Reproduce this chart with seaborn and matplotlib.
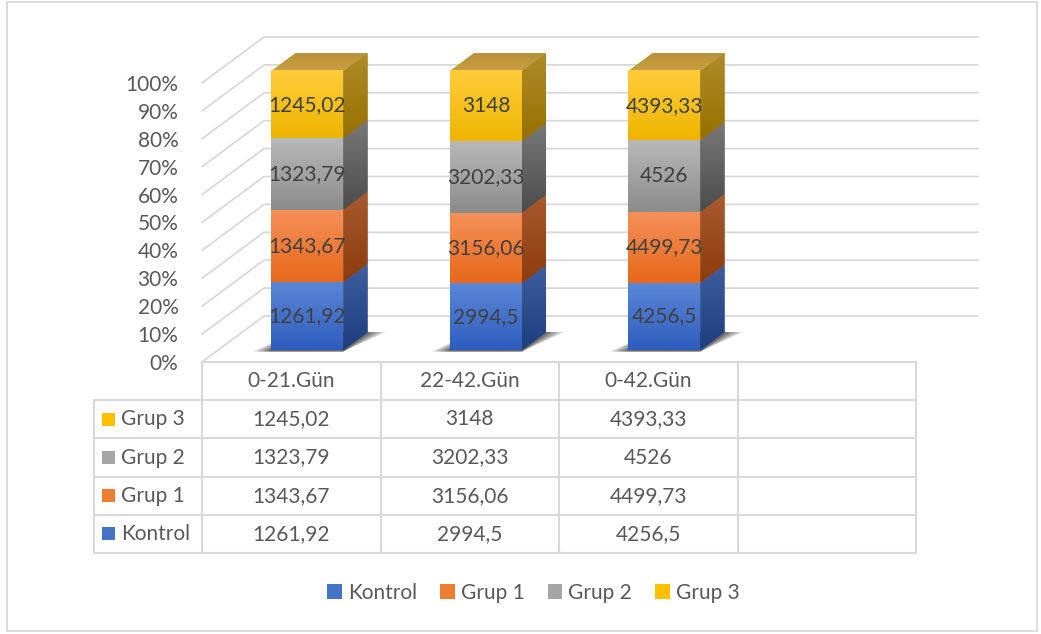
import matplotlib
matplotlib.use("Agg")
import matplotlib.colors as mcolors
import matplotlib.pyplot as plt
import matplotlib.transforms as mtransforms
import numpy as np
import pandas as pd
import seaborn as sns
from matplotlib.patches import Patch, Polygon, Rectangle

# data
categories = ["0-21.Gün", "22-42.Gün", "0-42.Gün"]
series_names = ["Kontrol", "Grup 1", "Grup 2", "Grup 3"]
kontrol = [1261.92, 2994.5, 4256.5]
grup1 = [1343.67, 3156.06, 4499.73]
grup2 = [1323.79, 3202.33, 4526]
grup3 = [1245.02, 3148, 4393.33]
y_ticks = list(range(0, 101, 10))

# colours: front face top/bottom, side face top/bottom
front_top = ["#5B87D6", "#F5915A", "#B8B8B8", "#FFCD3C"]
front_bot = ["#2E5DBD", "#E8681A", "#8C8C8C", "#EDB500"]
side_top = ["#3E5E9E", "#A85A30", "#787878", "#B08C28"]
side_bot = ["#1E3D7D", "#8C3C0C", "#4C4C4C", "#957000"]
mid_col = ["#4472C4", "#ED7D31", "#A5A5A5", "#FFC000"]
top_face = ("#C8A042", "#B8923A")
GRID = "#D9D9D9"
TXT = "#595959"

W, H = 1041, 634
DX, DY = 62, -46          # depth vector of the floor, pixels (y down)
D_FRONT, D_BAR = 0.26, 0.39
BAR_W = 0.403


def fmt(v):
    return f"{v:g}".replace(".", ",")


def vgrad(c_top, c_bot, n=64):
    a = np.array(mcolors.to_rgb(c_top))
    b = np.array(mcolors.to_rgb(c_bot))
    t = np.linspace(0, 1, n)[:, None]
    return (a + (b - a) * t)[:, None, :]


sns.set_style("white")
plt.rcParams["font.family"] = ["Lato", "DejaVu Sans"]

df = pd.DataFrame({"Kontrol": kontrol, "Grup 1": grup1,
                   "Grup 2": grup2, "Grup 3": grup3}, index=categories)
pct = df.div(df.sum(axis=1), axis=0) * 100

fig = plt.figure(figsize=(W / 100, H / 100), dpi=100)
bg = fig.add_axes([0, 0, 1, 1], zorder=0)
bg.set_xlim(0, W)
bg.set_ylim(H, 0)
bg.axis("off")

# front plane of the wall: y=0 at 362px, y=100 at 83px
px_per = (362 - 83) / 100
y_max = 112
ax = fig.add_axes([202 / W, 1 - 362 / H, (916 - 202) / W, y_max * px_per / H], zorder=1)
ax.set_facecolor("none")

bars = {}
bottom = np.zeros(len(categories))
for i, name in enumerate(series_names):
    n0 = len(ax.patches)
    sns.barplot(x=categories, y=pct[name].values, bottom=bottom, color=mid_col[i],
                saturation=1, width=BAR_W, errorbar=None, linewidth=0, ax=ax)
    bars[name] = ax.patches[n0:]
    bottom = bottom + pct[name].values

ax.set_xlim(-0.5, 3.5)
ax.set_ylim(0, y_max)
ax.set_xticks([])
ax.set_xlabel("")
ax.set_ylabel("")
for s in ax.spines.values():
    s.set_visible(False)
ax.set_yticks(y_ticks)
ax.set_yticklabels([f"{v}%" for v in y_ticks])
ax.tick_params(axis="y", length=0, pad=17, labelsize=15, labelcolor=TXT)

off_front = mtransforms.ScaledTranslation(DX * D_FRONT / 100, -DY * D_FRONT / 100,
                                          fig.dpi_scale_trans)
dv = np.array([DX, DY]) * D_BAR


def to_img(x, y, d=0.0):
    disp = ax.transData.transform((x, y))
    p = bg.transData.inverted().transform(disp)
    return p + d * np.array([DX, DY])


# back wall gridlines
for v in y_ticks:
    fl = to_img(-0.5, v)
    bl = fl + np.array([DX, DY])
    br = to_img(3.5, v) + np.array([DX, DY])
    bg.plot([fl[0], bl[0], br[0]], [fl[1], bl[1], br[1]], color=GRID, lw=1.3, zorder=1,
            solid_joinstyle="miter")

for i, name in enumerate(series_names):
    for p in bars[name]:
        x0, y0 = p.get_x(), p.get_y()
        x1, y1 = x0 + p.get_width(), y0 + p.get_height()
        p.set_transform(ax.transData + off_front)
        ax.imshow(vgrad(front_top[i], front_bot[i]), extent=(x0, x1, y0, y1),
                  origin="upper", aspect="auto", interpolation="bilinear",
                  transform=ax.transData + off_front, clip_path=p, zorder=3)

        # floor shadow under the first segment
        if i == 0:
            fl, fr = to_img(x0, 0, D_FRONT), to_img(x1, 0, D_FRONT)
            for e in (18, 14, 10, 6, 3):
                poly = [fl + [-e, 1.5], fr + [0, 1.5], fr + dv + [e, 0], fl + dv + [0, 0]]
                bg.add_patch(Polygon(poly, closed=True, facecolor="black", alpha=0.16,
                                     edgecolor="none", zorder=2))

        # side face
        frb, frt = to_img(x1, y0, D_FRONT), to_img(x1, y1, D_FRONT)
        side = np.array([frb, frt, frt + dv, frb + dv])
        sp = Polygon(side, closed=True, facecolor=side_bot[i], edgecolor="none", zorder=3)
        bg.add_patch(sp)
        bg.imshow(vgrad(side_top[i], side_bot[i]),
                  extent=(side[:, 0].min(), side[:, 0].max(), side[:, 1].max(), side[:, 1].min()),
                  origin="upper", aspect="auto", interpolation="bilinear",
                  clip_path=sp, zorder=3.5)

        # top face of the stack
        if i == len(series_names) - 1:
            ftl, ftr = to_img(x0, y1, D_FRONT), to_img(x1, y1, D_FRONT)
            top = np.array([ftl, ftr, ftr + dv, ftl + dv])
            tp = Polygon(top, closed=True, facecolor=top_face[0], edgecolor="none", zorder=3)
            bg.add_patch(tp)
            bg.imshow(vgrad(top_face[1], top_face[0]),
                      extent=(top[:, 0].min(), top[:, 0].max(), top[:, 1].max(), top[:, 1].min()),
                      origin="upper", aspect="auto", interpolation="bilinear",
                      clip_path=tp, zorder=3.5)

        raw = df[name].values[int(round(x0 + p.get_width() / 2))]
        ax.text(x0 + p.get_width() / 2, (y0 + y1) / 2, fmt(raw), ha="center", va="center",
                fontsize=15, color="#404040", transform=ax.transData + off_front, zorder=5)

# data table
xs = [to_img(v, 0)[0] for v in np.arange(-0.5, 3.6, 1.0)]
x_lab = 94
y_top = to_img(0, 0)[1]
row_h = 38.2
rows = [y_top + row_h * k for k in range(6)]
lkw = dict(color=GRID, lw=1.5, zorder=1)
bg.plot([xs[0], xs[-1]], [rows[0], rows[0]], **lkw)
for r in rows[1:]:
    bg.plot([x_lab, xs[-1]], [r, r], **lkw)
bg.plot([x_lab, x_lab], [rows[1], rows[-1]], **lkw)
for x in xs:
    bg.plot([x, x], [rows[0], rows[-1]], **lkw)

for j, cat in enumerate(categories):
    bg.text((xs[j] + xs[j + 1]) / 2, (rows[0] + rows[1]) / 2, cat, ha="center",
            va="center", fontsize=15, color=TXT)

table_order = list(reversed(series_names))
for k, name in enumerate(table_order):
    yc = (rows[k + 1] + rows[k + 2]) / 2
    i = series_names.index(name)
    bg.add_patch(Rectangle((102, yc - 6.5), 13, 13, facecolor=mid_col[i], edgecolor="none"))
    bg.text(121, yc, name, ha="left", va="center", fontsize=15, color=TXT)
    for j, v in enumerate(df[name].values):
        bg.text((xs[j] + xs[j + 1]) / 2, yc, fmt(v), ha="center", va="center",
                fontsize=15, color=TXT)

# legend
handles = [Patch(facecolor=c, edgecolor="none") for c in mid_col]
fig.legend(handles, series_names, loc="center", bbox_to_anchor=(533.5 / W, 1 - 593 / H),
           ncol=4, frameon=False, fontsize=15, handlelength=0.7, handleheight=0.7,
           handletextpad=0.3, columnspacing=1.1, labelcolor=TXT)

# chart border
bg.add_patch(Rectangle((6.5, 1.5), 1030, 629.5, fill=False, edgecolor=GRID, lw=1.3))

fig.savefig("out.png", dpi=100)
